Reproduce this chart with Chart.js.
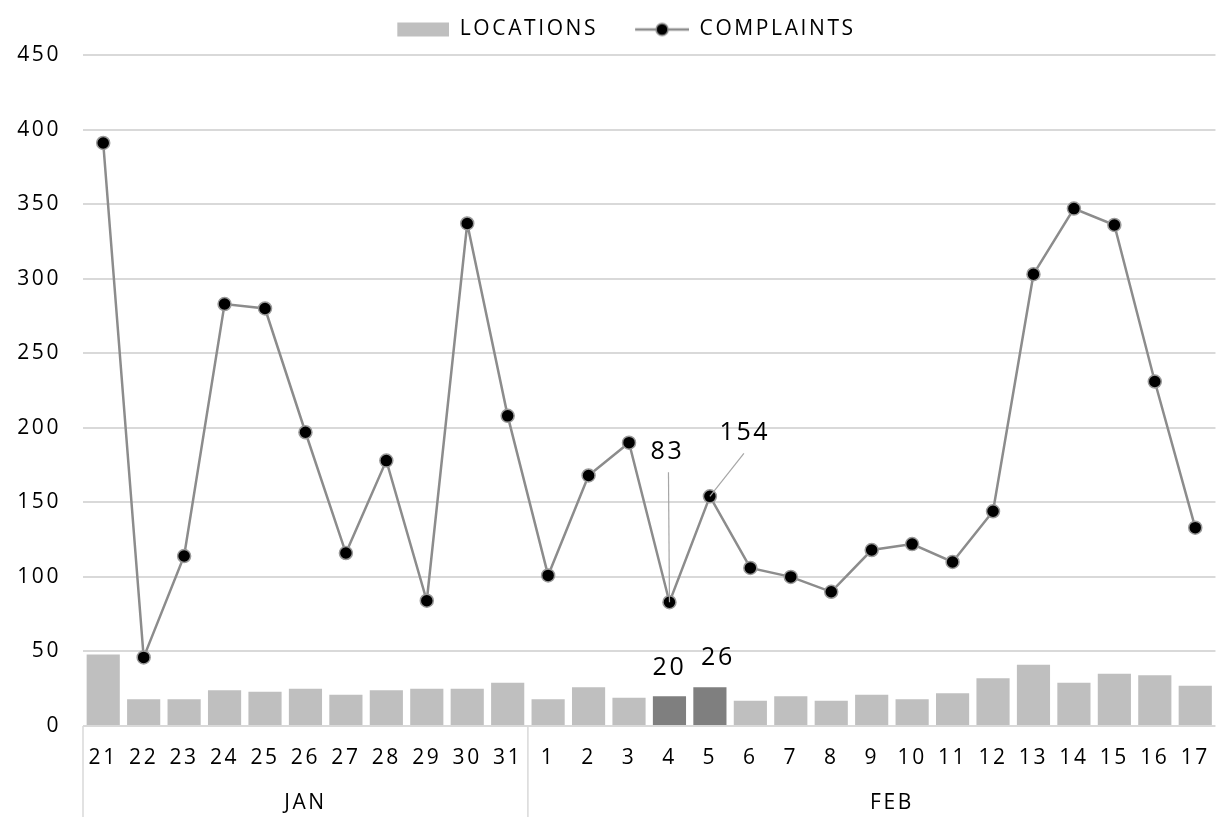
<!DOCTYPE html>
<html>
<head>
<meta charset="utf-8">
<title>Locations and complaints</title>
<script src="https://cdn.jsdelivr.net/npm/chart.js@4.4.1/dist/chart.umd.min.js"></script>
<style>
  html, body { margin: 0; padding: 0; background: #fff; }
  #wrap { width: 1229px; height: 822px; }
</style>
</head>
<body>
<div id="wrap"><canvas id="chart"></canvas></div>
<script>
// --- data ---
const days = ['21', '22', '23', '24', '25', '26', '27', '28', '29', '30', '31',
  '1', '2', '3', '4', '5', '6', '7', '8', '9', '10', '11', '12', '13', '14', '15', '16', '17'];
const months = ['JAN', 'FEB'];
const daysPerMonth = [11, 17];

const locations = [48, 18, 18, 24, 23, 25, 21, 24, 25, 25, 29,
  18, 26, 19, 20, 26, 17, 20, 17, 21, 18, 22, 32, 41, 29, 35, 34, 27];
const complaints = [391, 46, 114, 283, 280, 197, 116, 178, 84, 337, 208,
  101, 168, 190, 83, 154, 106, 100, 90, 118, 122, 110, 144, 303, 347, 336, 231, 133];

// Feb 4 and Feb 5 are picked out in the chart
const highlightIdx = [14, 15];

// --- styling ---
const FONT = '"Open Sans", sans-serif';
const BAR = '#bfbfbf';
const BAR_HI = '#7f7f7f';
const LINE = '#8c8c8c';
const GRID = '#d9d9d9';
const SPACING = '2.6px';
const LEGEND_BOX_W = 81;
const monthLabelShift = [0, 0.5]; // in categories, FEB label sits a little right

// value labels with optional leader line (offsets in px from the mark)
const callouts = [
  { dataset: 1, index: 14, dx: -2, dy: -150, leader: [-1, -130] },
  { dataset: 1, index: 15, dx: 35, dy: -63, leader: [34, -43] },
  { dataset: 0, index: 14, dx: 0, dy: -28 },
  { dataset: 0, index: 15, dx: 8, dy: -29 }
];

Chart.defaults.font.family = FONT;
Chart.defaults.font.size = 21;
Chart.defaults.color = '#000';

function makeIcon(draw) {
  const c = document.createElement('canvas');
  c.width = LEGEND_BOX_W;
  c.height = 16;
  draw(c.getContext('2d'), c.width, c.height);
  return c;
}

const barIcon = makeIcon((g, w, h) => {
  g.fillStyle = BAR;
  g.fillRect(w - 52, 1, 52, 14);
});

const lineIcon = makeIcon((g, w, h) => {
  g.strokeStyle = LINE;
  g.lineWidth = 2.5;
  g.beginPath();
  g.moveTo(w - 54, h / 2);
  g.lineTo(w, h / 2);
  g.stroke();
  g.beginPath();
  g.arc(w - 27, h / 2, 6, 0, Math.PI * 2);
  g.fillStyle = '#000';
  g.fill();
  g.lineWidth = 1.5;
  g.stroke();
});

// letter spacing on every text the chart writes + a gap under the legend
const spacing = {
  id: 'spacing',
  beforeUpdate(chart) {
    chart.ctx.letterSpacing = SPACING;
    const legend = chart.legend;
    if (legend && !legend._gapPatched) {
      const fit = legend.fit;
      legend.fit = function () {
        fit.call(this);
        this.height += 5;
      };
      legend._gapPatched = true;
    }
  },
  beforeDraw(chart) {
    chart.ctx.letterSpacing = SPACING;
  }
};

// second row of the category axis: month names and separators
const monthAxis = {
  id: 'monthAxis',
  afterDraw(chart) {
    const x = chart.scales.x;
    const ctx = chart.ctx;
    const half = (x.getPixelForValue(1) - x.getPixelForValue(0)) / 2;
    const top = chart.chartArea.bottom;
    let start = 0;
    ctx.save();
    ctx.strokeStyle = GRID;
    ctx.lineWidth = 1.5;
    ctx.fillStyle = '#000';
    ctx.font = '21px ' + FONT;
    ctx.textAlign = 'center';
    ctx.textBaseline = 'middle';
    months.forEach((m, i) => {
      const x0 = x.getPixelForValue(start) - half;
      const x1 = x.getPixelForValue(start + daysPerMonth[i] - 1) + half;
      ctx.beginPath();
      ctx.moveTo(x0, top);
      ctx.lineTo(x0, top + 91);
      ctx.stroke();
      ctx.fillText(m, (x0 + x1) / 2 + monthLabelShift[i] * half * 2, top + 77);
      start += daysPerMonth[i];
    });
    ctx.restore();
  }
};

const valueLabels = {
  id: 'valueLabels',
  afterDatasetsDraw(chart) {
    const ctx = chart.ctx;
    ctx.save();
    ctx.font = '25px ' + FONT;
    ctx.fillStyle = '#000';
    ctx.textAlign = 'center';
    ctx.textBaseline = 'middle';
    callouts.forEach(c => {
      const el = chart.getDatasetMeta(c.dataset).data[c.index];
      const value = chart.data.datasets[c.dataset].data[c.index];
      if (c.leader) {
        ctx.strokeStyle = '#a6a6a6';
        ctx.lineWidth = 1.2;
        ctx.beginPath();
        ctx.moveTo(el.x + c.leader[0], el.y + c.leader[1]);
        ctx.lineTo(el.x, el.y);
        ctx.stroke();
      }
      ctx.fillText(String(value), el.x + c.dx, el.y + c.dy);
    });
    ctx.restore();
  }
};

const ctx = document.getElementById('chart').getContext('2d');

new Chart(ctx, {
  type: 'bar',
  data: {
    labels: days,
    datasets: [
      {
        type: 'bar',
        label: 'LOCATIONS',
        data: locations,
        backgroundColor: locations.map((v, i) => highlightIdx.includes(i) ? BAR_HI : BAR),
        barPercentage: 0.82,
        categoryPercentage: 1,
        order: 1
      },
      {
        type: 'line',
        label: 'COMPLAINTS',
        data: complaints,
        borderColor: LINE,
        borderWidth: 2.5,
        tension: 0,
        pointRadius: 6.5,
        pointBorderWidth: 1.5,
        pointBackgroundColor: '#000',
        pointBorderColor: '#9a9a9a',
        order: 0
      }
    ]
  },
  options: {
    responsive: true,
    maintainAspectRatio: false,
    animation: false,
    layout: { padding: { top: 9, left: 0, right: 5, bottom: 0 } },
    plugins: {
      tooltip: { enabled: false },
      legend: {
        position: 'top',
        labels: {
          usePointStyle: true,
          pointStyleWidth: LEGEND_BOX_W,
          padding: 10,
          color: '#000',
          font: { size: 21 },
          generateLabels: () => [
            { text: 'LOCATIONS', pointStyle: barIcon, datasetIndex: 0, lineWidth: 0, fillStyle: BAR },
            { text: 'COMPLAINTS', pointStyle: lineIcon, datasetIndex: 1, lineWidth: 0, fillStyle: '#000' }
          ]
        }
      }
    },
    scales: {
      x: {
        ticks: { autoSkip: false, maxRotation: 0, padding: 19, color: '#000', font: { size: 21 } },
        grid: { display: false, drawTicks: false },
        border: { display: false },
        afterFit(scale) { scale.height = 96; }
      },
      y: {
        min: 0,
        max: 450,
        ticks: { stepSize: 50, padding: 22, color: '#000', font: { size: 21 } },
        grid: { color: GRID, lineWidth: 2, drawTicks: false },
        border: { display: false },
        afterFit(scale) { scale.width = 83; }
      }
    }
  },
  plugins: [spacing, monthAxis, valueLabels]
});
</script>
</body>
</html>
